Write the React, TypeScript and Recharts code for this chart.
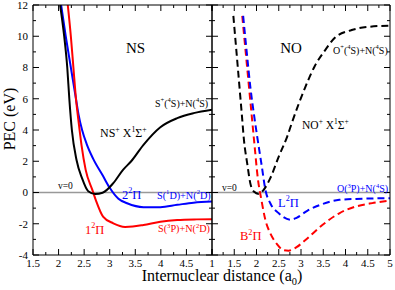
import React from "react"
import { LineChart, Line, XAxis, YAxis, ReferenceLine } from "recharts"

// NS panel (bond length in a0, energy in eV)
const nsIonR = [2.03, 2.11, 2.17, 2.21, 2.26, 2.35, 2.46, 2.58, 2.72, 2.86, 3.07, 3.26, 3.42, 3.66, 3.99, 4.32, 4.64, 5.0]
const nsIonE = [12, 10, 8, 6, 4, 2.1, 0.9, 0.08, -0.1, -0.02, 0.6, 1.45, 2.0, 3.05, 4.18, 4.76, 5.08, 5.3]
const ns1PiR = [2.18, 2.24, 2.29, 2.34, 2.4, 2.45, 2.53, 2.66, 2.73, 2.87, 3.07, 3.3, 3.45, 3.66, 3.99, 4.32, 4.7, 5.0]
const ns1PiE = [12, 10, 8, 6, 4.3, 3.0, 1.45, 0.17, -0.5, -1.54, -1.97, -2.2, -2.18, -2.08, -1.87, -1.76, -1.72, -1.71]
const ns2PiR = [2.05, 2.14, 2.24, 2.34, 2.39, 2.46, 2.55, 2.67, 2.87, 3.0, 3.17, 3.34, 3.66, 3.99, 4.32, 4.64, 5.0]
const ns2PiE = [12, 10, 8, 6, 5.0, 4.0, 3.1, 2.2, 1.05, 0.3, -0.4, -0.69, -0.94, -0.94, -0.79, -0.65, -0.58]

// NO panel
const noIonR = [1.48, 1.55, 1.61, 1.67, 1.72, 1.79, 1.86, 1.94, 2.05, 2.16, 2.31, 2.5, 2.69, 2.8, 3.09, 3.31, 3.54, 3.76, 4.14, 4.51, 5.0]
const noIonE = [11.3, 9.0, 7.0, 5.0, 3.3, 1.88, 0.6, 0.06, -0.09, 0.17, 0.92, 2.3, 3.58, 4.5, 6.7, 8.1, 9.1, 9.9, 10.4, 10.6, 10.68]
const noB2PiR = [1.68, 1.75, 1.82, 1.9, 1.96, 2.03, 2.11, 2.2, 2.31, 2.46, 2.6, 2.72, 2.9, 3.1, 3.48, 3.86, 4.23, 4.6, 5.0]
const noB2PiE = [11.3, 9.2, 7.1, 4.7, 2.9, 0.9, -0.47, -1.76, -2.61, -3.3, -3.68, -3.72, -3.5, -3.04, -2.08, -1.33, -0.9, -0.68, -0.52]
const noL2PiR = [1.7, 1.78, 1.86, 1.96, 2.05, 2.12, 2.2, 2.31, 2.5, 2.77, 2.9, 3.14, 3.48, 3.86, 4.23, 4.6, 5.0]
const noL2PiE = [11.3, 9.0, 6.8, 4.65, 2.94, 1.66, 0.17, -0.69, -1.33, -1.74, -1.62, -1.17, -0.74, -0.47, -0.41, -0.38, -0.36]

// axis ticks
const nsXTicks = [1.5, 1.75, 2, 2.25, 2.5, 2.75, 3, 3.25, 3.5, 3.75, 4, 4.25, 4.5, 4.75, 5]
const nsXLabels = [1.5, 2, 2.5, 3, 3.5, 4, 4.5]
const noXTicks = [1, 1.25, 1.5, 1.75, 2, 2.25, 2.5, 2.75, 3, 3.25, 3.5, 3.75, 4, 4.25, 4.5, 4.75, 5]
const noXLabels = [1, 1.5, 2, 2.5, 3, 3.5, 4, 4.5, 5]
const yTicks = [-4, -3, -2, -1, 0, 1, 2, 3, 4, 5, 6, 7, 8, 9, 10, 11, 12]
const yLabels = [-4, -2, 0, 2, 4, 6, 8, 10, 12]

const zip = (r: number[], e: number[]) => r.map((v, i) => ({ r: v, e: e[i] }))

const serif = '"Liberation Serif", "Times New Roman", Times, "DejaVu Serif", serif'
const RED = "#ff0000"
const BLUE = "#0000ff"

const isMajor = (v: number, step: number) => Math.abs(v / step - Math.round(v / step)) < 1e-6

const bottomTick = (labels: number[]) => (p: any) => {
  const v = p.payload.value
  const len = isMajor(v, 0.5) ? 6 : 3
  return (
    <g>
      <line x1={p.x} x2={p.x} y1={p.y} y2={p.y - len} stroke="#000" />
      {labels.includes(v) && (
        <text x={p.x} y={p.y + 11.5} textAnchor="middle" fontSize={11} fill="#000" style={{ fontFamily: serif }}>
          {v}
        </text>
      )}
    </g>
  )
}

const topTick = (p: any) => {
  const len = isMajor(p.payload.value, 0.5) ? 6 : 3
  return <line x1={p.x} x2={p.x} y1={p.y} y2={p.y + len} stroke="#000" />
}

const leftTick = (labels: number[]) => (p: any) => {
  const v = p.payload.value
  const len = isMajor(v, 2) ? 6 : 3
  return (
    <g>
      <line x1={p.x} x2={p.x + len} y1={p.y} y2={p.y} stroke="#000" />
      {labels.includes(v) && (
        <text x={p.x - 5} y={p.y + 3.8} textAnchor="end" fontSize={11} fill="#000" style={{ fontFamily: serif }}>
          {v}
        </text>
      )}
    </g>
  )
}

const rightTick = (p: any) => {
  const len = isMajor(p.payload.value, 2) ? 6 : 3
  return <line x1={p.x} x2={p.x - len} y1={p.y} y2={p.y} stroke="#000" />
}

type Seg = [string, string?]

const Rich = ({ x, y, size, segs, fill = "#000", anchor = "start" }: { x: number; y: number; size: number; segs: Seg[]; fill?: string; anchor?: string }) => {
  let shift = 0
  return (
    <text x={x} y={y} fontSize={size} fill={fill} textAnchor={anchor as any} style={{ fontFamily: serif }}>
      {segs.map(([t, k], i) => {
        const target = k === "sup" ? -size * 0.42 : k === "sub" ? size * 0.28 : 0
        const dy = target - shift
        shift = target
        return (
          <tspan key={i} dy={dy} fontSize={k ? size * 0.65 : size}>
            {t}
          </tspan>
        )
      })}
    </text>
  )
}

const axisLine = { stroke: "#000", strokeWidth: 1 }

export default function App() {
  const refLine = <ReferenceLine y={0} stroke="#999" strokeWidth={1.6} />
  return (
    <div style={{ position: "absolute", left: 0, top: 0, width: 395, height: 290, background: "#fff" }}>
      <div style={{ position: "absolute", left: 0, top: 0 }}>
        <LineChart width={217} height={290} margin={{ top: 0, right: 0, bottom: 0, left: 0 }}>
          <XAxis dataKey="r" type="number" domain={[1.5, 5]} ticks={nsXTicks} interval={0} allowDataOverflow
            height={35} tickSize={0} tickMargin={0} tickLine={false} axisLine={axisLine} tick={bottomTick(nsXLabels)} />
          <XAxis xAxisId="top" orientation="top" dataKey="r" type="number" domain={[1.5, 5]} ticks={nsXTicks} interval={0}
            allowDataOverflow height={5} tickSize={0} tickMargin={0} tickLine={false} axisLine={axisLine} tick={topTick} />
          <YAxis type="number" domain={[-4, 12]} ticks={yTicks} interval={0} allowDataOverflow width={33}
            tickSize={0} tickMargin={0} tickLine={false} axisLine={axisLine} tick={leftTick(yLabels)} />
          <YAxis yAxisId="right" orientation="right" type="number" domain={[-4, 12]} ticks={yTicks} interval={0}
            allowDataOverflow width={5} tickSize={0} tickMargin={0} tickLine={false} axisLine={axisLine} tick={rightTick} />
          {refLine}
          <Line data={zip(ns2PiR, ns2PiE)} dataKey="e" type="monotone" stroke={BLUE} strokeWidth={2} dot={false} isAnimationActive={false} />
          <Line data={zip(ns1PiR, ns1PiE)} dataKey="e" type="monotone" stroke={RED} strokeWidth={2} dot={false} isAnimationActive={false} />
          <Line data={zip(nsIonR, nsIonE)} dataKey="e" type="monotone" stroke="#000" strokeWidth={2} dot={false} isAnimationActive={false} />
        </LineChart>
      </div>
      <div style={{ position: "absolute", left: 192, top: 0 }}>
        <LineChart width={203} height={290} margin={{ top: 0, right: 0, bottom: 0, left: 0 }}>
          <XAxis dataKey="r" type="number" domain={[1, 5]} ticks={noXTicks} interval={0} allowDataOverflow
            height={35} tickSize={0} tickMargin={0} tickLine={false} axisLine={axisLine} tick={bottomTick(noXLabels)} />
          <XAxis xAxisId="top" orientation="top" dataKey="r" type="number" domain={[1, 5]} ticks={noXTicks} interval={0}
            allowDataOverflow height={5} tickSize={0} tickMargin={0} tickLine={false} axisLine={axisLine} tick={topTick} />
          <YAxis type="number" domain={[-4, 12]} ticks={yTicks} interval={0} allowDataOverflow width={20}
            tickSize={0} tickMargin={0} tickLine={false} axisLine={axisLine} tick={leftTick([])} />
          <YAxis yAxisId="right" orientation="right" type="number" domain={[-4, 12]} ticks={yTicks} interval={0}
            allowDataOverflow width={5} tickSize={0} tickMargin={0} tickLine={false} axisLine={axisLine} tick={rightTick} />
          {refLine}
          <Line data={zip(noB2PiR, noB2PiE)} dataKey="e" type="monotone" stroke={RED} strokeWidth={2} strokeDasharray="7 4" dot={false} isAnimationActive={false} />
          <Line data={zip(noL2PiR, noL2PiE)} dataKey="e" type="monotone" stroke={BLUE} strokeWidth={2} strokeDasharray="7 4" dot={false} isAnimationActive={false} />
          <Line data={zip(noIonR, noIonE)} dataKey="e" type="monotone" stroke="#000" strokeWidth={2} strokeDasharray="7 4" dot={false} isAnimationActive={false} />
        </LineChart>
      </div>
      <svg width={395} height={290} style={{ position: "absolute", left: 0, top: 0, pointerEvents: "none" }}>
        <text x={15} y={119} transform="rotate(-90 15 119)" textAnchor="middle" fontSize={16} style={{ fontFamily: serif }}>PEC (eV)</text>
        <Rich x={222} y={281} size={16} anchor="middle" segs={[["Internuclear distance (a"], ["0", "sub"], [")"]]} />

        <Rich x={135.5} y={53} size={15} anchor="middle" segs={[["NS"]]} />
        <Rich x={100} y={137} size={12} segs={[["NS"], ["+", "sup"], [" X"], ["1", "sup"], ["Σ"], ["+", "sup"]]} />
        <Rich x={155} y={106.5} size={10} segs={[["S"], ["+", "sup"], ["("], ["4", "sup"], ["S)+N("], ["4", "sup"], ["S)"]]} />
        <Rich x={122} y={198.5} size={12.5} fill={BLUE} segs={[["2"], ["2", "sup"], ["Π"]]} />
        <Rich x={157} y={198.5} size={10.2} fill={BLUE} segs={[["S("], ["1", "sup"], ["D)+N("], ["2", "sup"], ["D)"]]} />
        <Rich x={85} y={233.5} size={12.5} fill={RED} segs={[["1"], ["2", "sup"], ["Π"]]} />
        <Rich x={158} y={232} size={10.2} fill={RED} segs={[["S("], ["3", "sup"], ["P)+N("], ["2", "sup"], ["D)"]]} />
        <Rich x={58} y={189} size={9.5} segs={[["v=0"]]} />

        <Rich x={291} y={53} size={15} anchor="middle" segs={[["NO"]]} />
        <Rich x={333} y={53.5} size={10} segs={[["O"], ["+", "sup"], ["("], ["4", "sup"], ["S)+N("], ["4", "sup"], ["S)"]]} />
        <Rich x={302} y={128.5} size={11.5} segs={[["NO"], ["+", "sup"], [" X"], ["1", "sup"], ["Σ"], ["+", "sup"]]} />
        <Rich x={337} y={192} size={10} fill={BLUE} segs={[["O("], ["3", "sup"], ["P)+N("], ["4", "sup"], ["S)"]]} />
        <Rich x={278} y={206.5} size={12.5} fill={BLUE} segs={[["L"], ["2", "sup"], ["Π"]]} />
        <Rich x={240} y={240} size={12.5} fill={RED} segs={[["B"], ["2", "sup"], ["Π"]]} />
        <Rich x={222} y={190.5} size={9.5} segs={[["v=0"]]} />
      </svg>
    </div>
  )
}
